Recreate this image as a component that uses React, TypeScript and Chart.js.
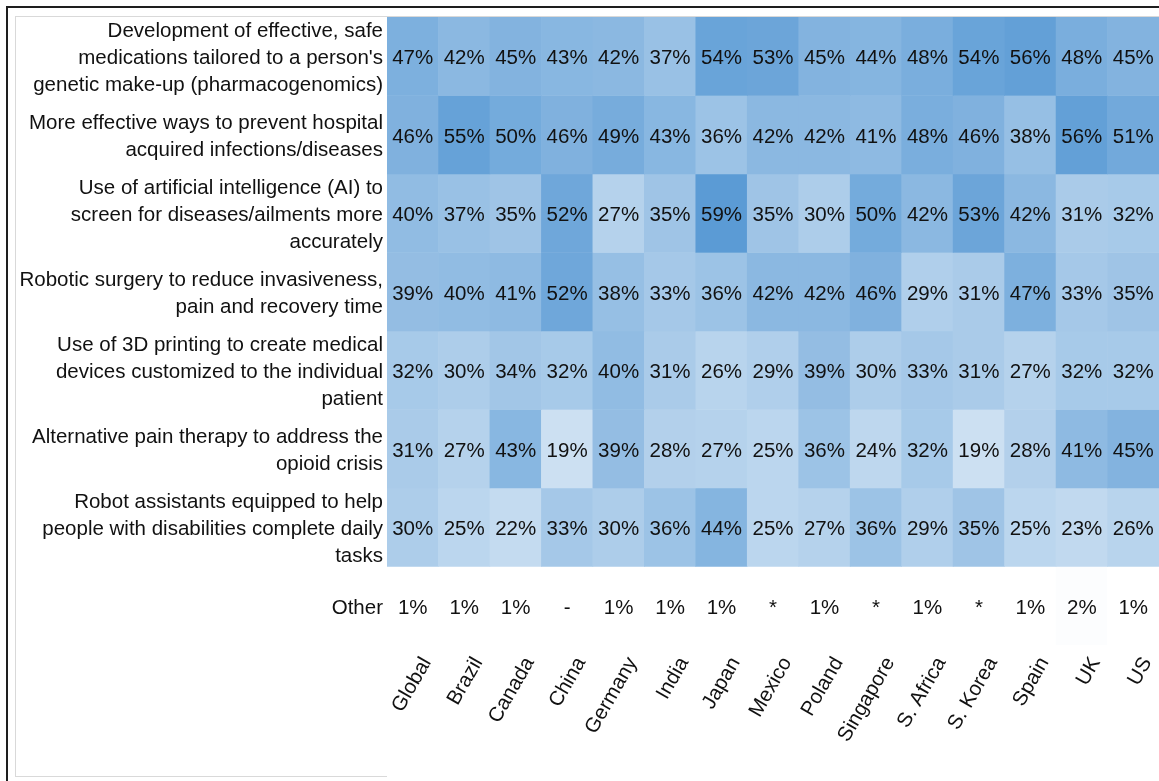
import React, { useEffect, useRef } from "react";
import { Chart, registerables } from "chart.js";

Chart.register(...registerables);

const countries = [
  "Global", "Brazil", "Canada", "China", "Germany", "India", "Japan", "Mexico",
  "Poland", "Singapore", "S. Africa", "S. Korea", "Spain", "UK", "US",
];

const rowLabels: (string | string[])[] = [
  ["Development of effective, safe", "medications tailored to a person's", "genetic make-up (pharmacogenomics)"],
  ["More effective ways to prevent hospital", "acquired infections/diseases"],
  ["Use of artificial intelligence (AI) to", "screen for diseases/ailments more", "accurately"],
  ["Robotic surgery to reduce invasiveness,", "pain and recovery time"],
  ["Use of 3D printing to create medical", "devices customized to the individual", "patient"],
  ["Alternative pain therapy to address the", "opioid crisis"],
  ["Robot assistants equipped to help", "people with disabilities complete daily", "tasks"],
  "Other",
];

const pharmacogenomics = [47, 42, 45, 43, 42, 37, 54, 53, 45, 44, 48, 54, 56, 48, 45];
const hospitalInfections = [46, 55, 50, 46, 49, 43, 36, 42, 42, 41, 48, 46, 38, 56, 51];
const aiScreening = [40, 37, 35, 52, 27, 35, 59, 35, 30, 50, 42, 53, 42, 31, 32];
const roboticSurgery = [39, 40, 41, 52, 38, 33, 36, 42, 42, 46, 29, 31, 47, 33, 35];
const printing3D = [32, 30, 34, 32, 40, 31, 26, 29, 39, 30, 33, 31, 27, 32, 32];
const painTherapy = [31, 27, 43, 19, 39, 28, 27, 25, 36, 24, 32, 19, 28, 41, 45];
const robotAssistants = [30, 25, 22, 33, 30, 36, 44, 25, 27, 36, 29, 35, 25, 23, 26];
const otherLabels = ["1%", "1%", "1%", "-", "1%", "1%", "1%", "*", "1%", "*", "1%", "*", "1%", "2%", "1%"];

const rows = [
  pharmacogenomics, hospitalInfections, aiScreening, roboticSurgery,
  printing3D, painTherapy, robotAssistants,
];

const FONT = "'Liberation Sans', Arial, sans-serif";
const FSIZE = 20.5;
const TEXT_SHIFT = 2.5;

function colorFor(v: number): string {
  if (!isFinite(v)) return "rgba(0,0,0,0)";
  const t = Math.max(0, Math.min(1, (v - 1) / 58));
  const r = Math.round(255 + t * (91 - 255));
  const g = Math.round(255 + t * (155 - 255));
  const b = Math.round(255 + t * (213 - 255));
  return `rgb(${r},${g},${b})`;
}

const framePlugin = {
  id: "frame",
  beforeDraw(chart: any) {
    const ctx = chart.ctx;
    ctx.save();
    ctx.fillStyle = "#ffffff";
    ctx.fillRect(0, 0, chart.width, chart.height);
    ctx.fillStyle = "#1e1e1e";
    ctx.fillRect(6, 6, 2, chart.height - 6);
    ctx.fillRect(6, 6, chart.width - 6, 2);
    ctx.fillStyle = "#d9d9d9";
    ctx.fillRect(15, 16, chart.width - 15, 1);
    ctx.fillRect(15, 16, 1, 761);
    ctx.fillRect(15, 776, 372, 1);
    ctx.restore();
  },
};

const cellTextPlugin = {
  id: "cellText",
  afterDatasetsDraw(chart: any) {
    const ctx = chart.ctx;
    const xs = chart.scales.x;
    const ys = chart.scales.y;
    ctx.save();
    ctx.font = `${FSIZE}px ${FONT}`;
    ctx.fillStyle = "#111111";
    ctx.textAlign = "center";
    ctx.textBaseline = "middle";
    rows.forEach((vals, r) => {
      vals.forEach((v, c) => {
        ctx.fillText(`${v}%`, xs.getPixelForValue(c), ys.getPixelForValue(r + 0.5) + TEXT_SHIFT);
      });
    });
    otherLabels.forEach((t, c) => {
      ctx.fillText(t, xs.getPixelForValue(c), ys.getPixelForValue(rows.length + 0.5) + TEXT_SHIFT);
    });
    ctx.restore();
  },
};

export default function App() {
  const ref = useRef<HTMLCanvasElement>(null);
  useEffect(() => {
    document.body.style.margin = "0";
    const canvas = ref.current!;
    const datasets: any[] = rows.map((vals, r) => ({
      label: `row${r}`,
      data: vals.map(() => [r, r + 1]),
      backgroundColor: vals.map((v) => colorFor(v)),
      borderWidth: 0,
      grouped: false,
      barPercentage: 1,
      categoryPercentage: 1,
    }));
    datasets.push({
      label: "Other",
      data: otherLabels.map(() => [rows.length, rows.length + 1]),
      backgroundColor: otherLabels.map((t) => colorFor(parseFloat(t))),
      borderWidth: 0,
      grouped: false,
      barPercentage: 1,
      categoryPercentage: 1,
    });
    const chart = new Chart(canvas, {
      type: "bar",
      data: { labels: countries, datasets },
      options: {
        responsive: false,
        animation: false,
        devicePixelRatio: 1,
        layout: { padding: { top: 17, left: 0, right: 0, bottom: 0 } },
        plugins: { legend: { display: false }, tooltip: { enabled: false } },
        scales: {
          x: {
            type: "category",
            grid: { display: false, drawTicks: false },
            border: { display: false },
            ticks: {
              autoSkip: false,
              maxRotation: 60,
              minRotation: 60,
              padding: 8,
              labelOffset: 14,
              color: "#111111",
              font: { family: FONT, size: FSIZE },
            },
            afterFit(scale: any) {
              scale.height = 136;
              scale.paddingLeft = 0;
              scale.paddingRight = 0;
              scale.paddingTop = 0;
              scale.paddingBottom = 0;
            },
          },
          y: {
            type: "linear",
            min: 0,
            max: rowLabels.length,
            reverse: true,
            grid: { display: false, drawTicks: false },
            border: { display: false },
            afterBuildTicks(scale: any) {
              scale.ticks = rowLabels.map((_, i) => ({ value: i + 0.5 }));
            },
            ticks: {
              autoSkip: false,
              padding: 4,
              labelOffset: TEXT_SHIFT,
              color: "#111111",
              font: { family: FONT, size: FSIZE, lineHeight: 1.32 },
              callback: (v: any) => rowLabels[Math.floor(Number(v))],
            },
            afterFit(scale: any) {
              scale.width = 387;
              scale.paddingLeft = 0;
              scale.paddingRight = 0;
              scale.paddingTop = 0;
              scale.paddingBottom = 0;
            },
          },
        },
      },
      plugins: [framePlugin, cellTextPlugin],
    });
    return () => chart.destroy();
  }, []);
  return (
    <canvas
      ref={ref}
      width={1159}
      height={781}
      style={{ display: "block", width: "1159px", height: "781px" }}
    />
  );
}
